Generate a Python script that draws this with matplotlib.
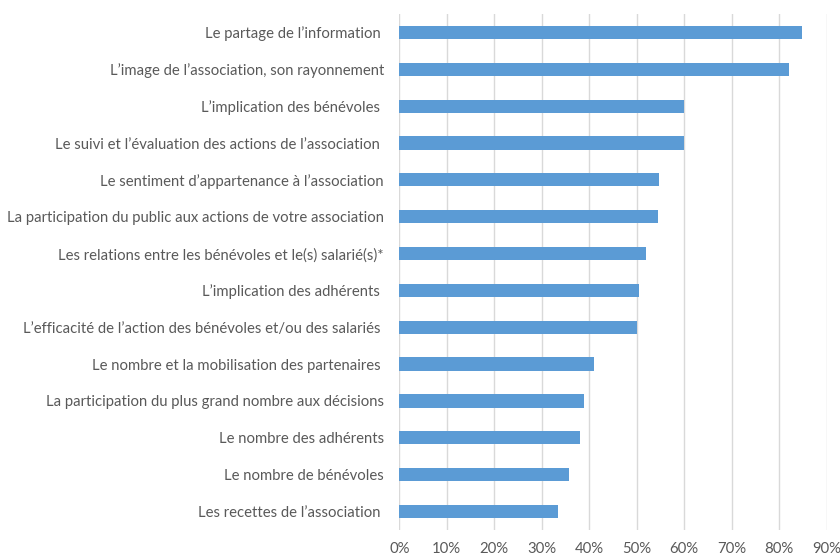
import matplotlib.pyplot as plt
from matplotlib.ticker import PercentFormatter

plt.rcParams['font.family'] = ['Lato', 'DejaVu Sans']

labels = [
    "Le partage de l’information ",
    "L’image de l’association, son rayonnement",
    "L’implication des bénévoles ",
    "Le suivi et l’évaluation des actions de l’association ",
    "Le sentiment d’appartenance à l’association",
    "La participation du public aux actions de votre association",
    "Les relations entre les bénévoles et le(s) salarié(s)*",
    "L’implication des adhérents ",
    "L’efficacité de l’action des bénévoles et/ou des salariés ",
    "Le nombre et la mobilisation des partenaires ",
    "La participation du plus grand nombre aux décisions",
    "Le nombre des adhérents",
    "Le nombre de bénévoles",
    "Les recettes de l’association ",
]
values = [84.7, 82.1, 60.0, 60.0, 54.6, 54.5, 52.0, 50.5, 50.1, 40.9, 38.9, 38.0, 35.7, 33.5]
ticks = [0, 10, 20, 30, 40, 50, 60, 70, 80, 90]

text_color = '#595959'

fig = plt.figure(figsize=(8.4, 5.56), dpi=100)
ax = fig.add_axes([0.4754, 0.0468, 0.5088, 0.928])

ypos = list(range(len(labels)))[::-1]
ax.barh(ypos, values, height=0.36, color='#5B9BD5', zorder=2)

ax.set_xlim(0, 90)
ax.set_ylim(-0.5, len(labels) - 0.5)
ax.set_xticks(ticks)
ax.xaxis.set_major_formatter(PercentFormatter(decimals=0))
ax.set_yticks(ypos)
ax.set_yticklabels(labels)
ax.grid(axis='x', color='#D9D9D9', linewidth=1, zorder=0)
for s in ax.spines.values():
    s.set_visible(False)
ax.tick_params(axis='both', length=0, colors=text_color, labelsize=10.7)
ax.tick_params(axis='y', pad=11)
ax.tick_params(axis='x', pad=8.5)

fig.savefig('out.png', dpi=100)
